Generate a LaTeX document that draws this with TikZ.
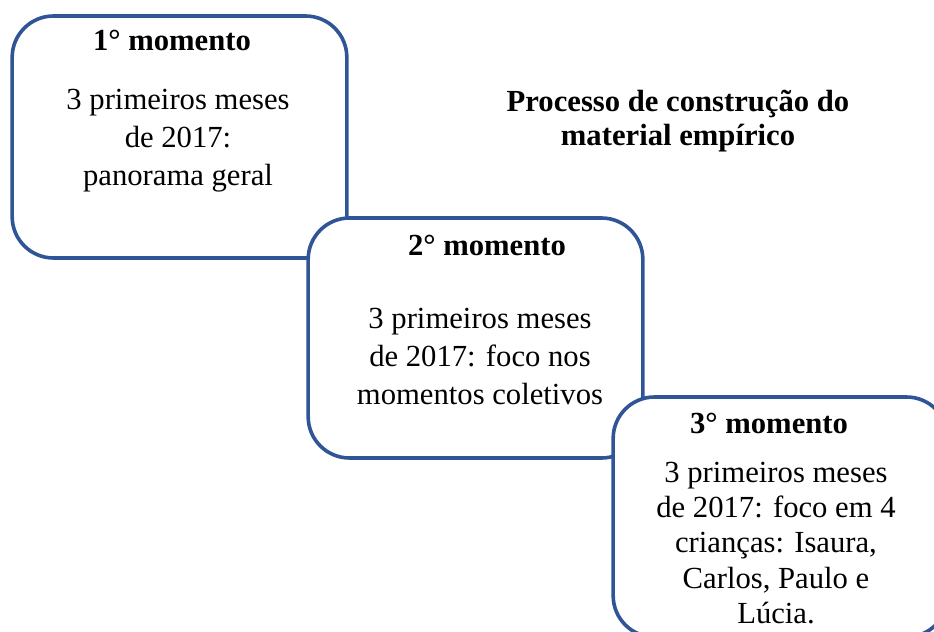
\documentclass[tikz,border=0pt]{standalone}
\usepackage{fontspec}
\setmainfont{Liberation Serif}
\definecolor{boxblue}{RGB}{47,85,151}
\tikzset{
  momentbox/.style={draw=boxblue, line width=2.7pt, fill=white, rounded corners=31pt,
    minimum width=251pt, minimum height=180pt, inner sep=0pt},
  titletext/.style={font=\fontsize{23}{28}\selectfont\bfseries, inner sep=0pt, align=center},
  bodytext/.style={font=\fontsize{23}{28.5}\selectfont, inner sep=0pt, align=center}
}
\begin{document}
\begin{tikzpicture}[x=0.75pt,y=-0.75pt]
\useasboundingbox (0,0) rectangle (934,631);
\clip (0,0) rectangle (934,631);
\fill[white] (0,0) rectangle (934,631);
\node[momentbox, minimum height=181.5pt] (b1) at (179.5,137) {};
\node[momentbox] (b2) at (475.5,338) {};
\node[momentbox] (b3) at (780.5,517) {};
\node[titletext] (t1) at (172,40) {1° momento};
\node[bodytext] (x1) at (178,141) {3 primeiros meses\\de 2017:\\panorama geral};
\node[titletext] (t2) at (487,245) {2° momento};
\node[bodytext] (x2) at (480,356) {3 primeiros meses\\de 2017: foco nos\\momentos coletivos};
\node[titletext] (t3) at (769,423) {3° momento};
\node[bodytext, font=\fontsize{23}{26.6}\selectfont] (x3) at (776,543) {3 primeiros meses\\de 2017: foco em 4\\crianças: Isaura,\\Carlos, Paulo e\\Lúcia.};
\node[titletext, font=\fontsize{23}{25}\selectfont\bfseries] (hd) at (678,121) {Processo de construção do\\material empírico};
\end{tikzpicture}
\end{document}
